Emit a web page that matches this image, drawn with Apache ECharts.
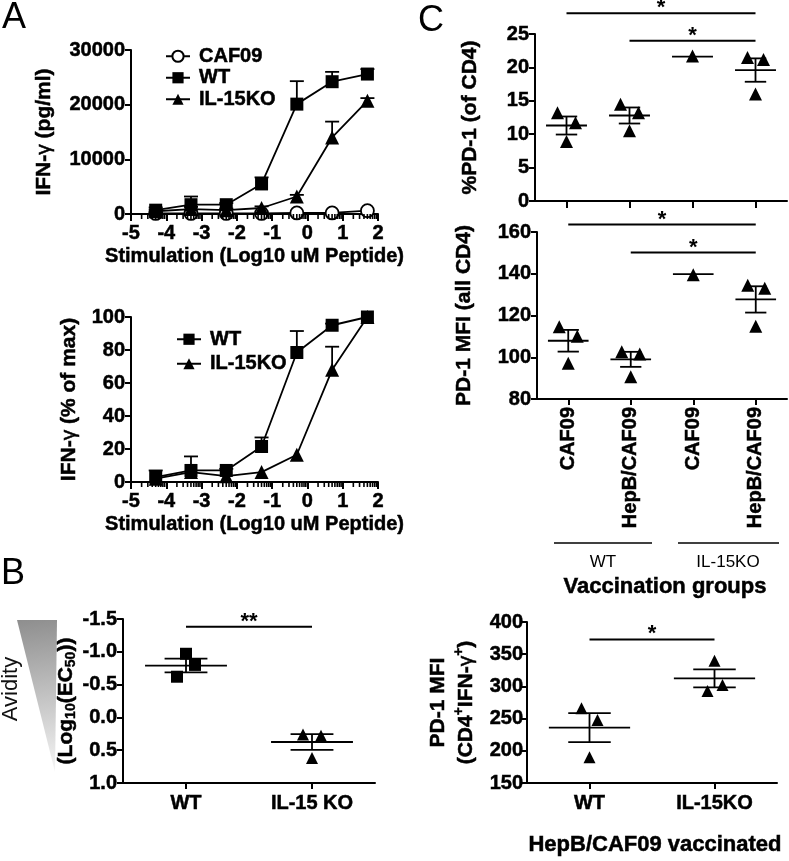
<!DOCTYPE html>
<html><head><meta charset="utf-8">
<script src="https://cdn.jsdelivr.net/npm/echarts@6/dist/echarts.min.js"></script>
<style>html,body{margin:0;padding:0;background:#fff}#c{width:789px;height:861px}</style>
</head><body><div id="c"></div>
<script>
// ---------- Panel A data ----------
const doseLog = [-4.3, -3.3, -2.3, -1.3, -0.3, 0.7, 1.7];
const caf09Abs = [100, 100, 100, 100, 200, 200, 600];
const wtAbs = [700, 1700, 1700, 5500, 20100, 24200, 25600];
const wtAbsErr = [500, 1500, 300, 1200, 4200, 1800, 900];
const ilAbs = [500, 900, 700, 1100, 3200, 14000, 20700];
const ilAbsErr = [300, 400, 300, 300, 300, 2900, 500];
const wtPct = [3, 7, 7, 21.5, 78.5, 95, 100];
const wtPctErr = [4, 8.5, 1, 5.5, 13, 1, 0];
const ilPct = [2, 6, 3.5, 6, 16.5, 68, 100];
const ilPctErr = [0, 0, 0, 0, 0, 14, 0];
const decadesA = [-5, -4, -3, -2, -1, 0, 1];
const logMinorFractions = [0.301, 0.477, 0.602, 0.699, 0.778, 0.845, 0.903, 0.954];

// ---------- Panel B data ----------
const catsB = ['WT', 'IL-15 KO'];
const ec50Pts = [[-0.97, -0.80, -0.62], [0.26, 0.28, 0.62]];
const ec50Mean = [-0.79, 0.375];
const ec50Sem = [0.105, 0.12];
const sigB = [[0, -1.38, 1]];
const sigBText = ['**'];

// ---------- Panel C data ----------
const catsC = ['CAF09', 'HepB/CAF09', 'CAF09', 'HepB/CAF09'];
const pd1PctPts = [[13.2, 11.7, 8.9], [14.5, 13.2, 10.5], [21.7], [21.5, 21.2, 16.0]];
const pd1PctMean = [11.3, 12.8, 21.6, 19.6];
const pd1PctSem = [1.35, 1.2, 0, 1.75];
const sigCTop = [[0, 28.1, 3], [1, 24.0, 3]];
const sigCTopText = ['*', '*'];
const pd1MfiPts = [[114.6, 110.1, 97.1], [102.6, 101.5, 90.7], [139.5], [134.5, 133.0, 114.9]];
const pd1MfiMean = [107.9, 99.0, 139.8, 127.7];
const pd1MfiSem = [5.2, 3.6, 0, 6.3];
const sigCBot = [[0, 163.6, 3], [1, 150.2, 3]];
const sigCBotText = ['*', '*'];

// ---------- Panel D data ----------
const catsD = ['WT', 'IL-15KO'];
const ifnMfiPts = [[266, 248, 190], [339.7, 302, 292.8]];
const ifnMfiMean = [236, 312.4];
const ifnMfiSem = [22.5, 14];
const sigD = [[0, 373, 1]];
const sigDText = ['*'];

// ---------- styling (pixel offsets for jittered dots) ----------
const jitB = [[0, 9, -9], [-9, 9, 0]];
const jitCTop = [[-9, 9, 0], [-9, 9, 0], [0], [-8, 8, 0]];
const jitCBot = [[-9, 9, 0], [-9, 9, 0], [0], [-8, 9, 0]];
const jitD = [[-8, 8, 0], [0, 8, -7]];

const FONT = '"Liberation Sans", Arial, Helvetica, sans-serif';
const K = '#000';
const boldTxt = (s) => ({color: K, fontSize: s, fontWeight: 'bold', fontFamily: FONT, textBorderColor: K, textBorderWidth: 0.5});

function yAx(gi, o) {
  return Object.assign({
    type: 'value', gridIndex: gi,
    axisLine: {show: true, onZero: false, lineStyle: {color: K, width: 2}},
    axisTick: {show: true, length: 6, lineStyle: {color: K, width: 2}},
    axisLabel: Object.assign(boldTxt(20), {margin: 6}),
    splitLine: {show: false},
    nameLocation: 'middle', nameRotate: 90,
    nameTextStyle: boldTxt(21)
  }, o);
}
function xVal(gi, o) {
  return Object.assign({
    type: 'value', gridIndex: gi, min: -5, max: 2, interval: 1,
    axisLine: {show: true, onZero: false, lineStyle: {color: K, width: 2}},
    axisTick: {show: true, length: 7, lineStyle: {color: K, width: 2}},
    axisLabel: Object.assign(boldTxt(20), {margin: 9}),
    splitLine: {show: false},
    name: 'Stimulation (Log10 uM Peptide)', nameLocation: 'middle', nameGap: 32,
    nameTextStyle: boldTxt(20)
  }, o);
}
function xCat(gi, data, o) {
  return Object.assign({
    type: 'category', gridIndex: gi, data: data, boundaryGap: true,
    axisLine: {show: true, onZero: false, lineStyle: {color: K, width: 2}},
    axisTick: {show: true, alignWithLabel: true, interval: 0, length: 6, lineStyle: {color: K, width: 2}},
    axisLabel: Object.assign(boldTxt(20), {margin: 10, interval: 0}),
    splitLine: {show: false}
  }, o);
}

function minorTickSeries(xi, yi) {
  const d = [];
  decadesA.forEach(dec => logMinorFractions.forEach(f => d.push([dec + f, 0])));
  return {type: 'custom', xAxisIndex: xi, yAxisIndex: yi, silent: true, clip: false, z: 6, data: d,
    renderItem(p, api) {
      const c = api.coord([api.value(0), api.value(1)]);
      return {type: 'line', shape: {x1: c[0], y1: c[1], x2: c[0], y2: c[1] + 5}, style: {stroke: K, lineWidth: 1.6}};
    }};
}
function errSeries(xi, yi, xs, ys, es) {
  return {type: 'custom', xAxisIndex: xi, yAxisIndex: yi, silent: true, z: 2,
    data: xs.map((x, i) => [x, ys[i], es[i]]),
    renderItem(p, api) {
      const x = api.value(0), y = api.value(1), e = api.value(2);
      if (!(e > 0)) return null;
      const a = api.coord([x, y]), b = api.coord([x, y + e]);
      const st = {stroke: K, lineWidth: 1.8};
      return {type: 'group', children: [
        {type: 'line', shape: {x1: a[0], y1: a[1], x2: b[0], y2: b[1]}, style: st},
        {type: 'line', shape: {x1: b[0] - 7, y1: b[1], x2: b[0] + 7, y2: b[1]}, style: st}
      ]};
    }};
}
function lineSeries(name, xi, yi, xs, ys, symbol, size, hollow) {
  return {type: 'line', name, xAxisIndex: xi, yAxisIndex: yi, z: 3,
    data: xs.map((x, i) => [x, ys[i]]), symbol, symbolSize: size, showSymbol: true,
    lineStyle: {color: K, width: 1.8},
    itemStyle: hollow ? {color: '#fff', borderColor: K, borderWidth: 1.8, opacity: 1} : {color: K, borderWidth: 0, opacity: 1},
    emphasis: {disabled: true}};
}
function dotSeries(xi, yi, groups, jit, symbols, size) {
  const d = [];
  groups.forEach((g, ci) => g.forEach((v, j) => d.push({value: [ci, v], symbol: symbols[ci], symbolOffset: [jit[ci][j], 0]})));
  return {type: 'scatter', xAxisIndex: xi, yAxisIndex: yi, z: 3, data: d, symbolSize: size,
    itemStyle: {color: K, opacity: 1}, emphasis: {disabled: true}, silent: true};
}
function meanSemSeries(xi, yi, means, sems) {
  return {type: 'custom', xAxisIndex: xi, yAxisIndex: yi, silent: true, z: 4,
    data: means.map((m, i) => [i, m, sems[i]]),
    renderItem(p, api) {
      const c = api.value(0), m = api.value(1), s = api.value(2);
      const pt = api.coord([c, m]);
      const w = api.size([1, 0])[0];
      const hw = w * 0.325, cw = w * 0.17;
      const st = {stroke: K, lineWidth: 1.8};
      const ch = [{type: 'line', shape: {x1: pt[0] - hw, y1: pt[1], x2: pt[0] + hw, y2: pt[1]}, style: st}];
      if (s > 0) {
        const hi = api.coord([c, m + s])[1], lo = api.coord([c, m - s])[1];
        ch.push({type: 'line', shape: {x1: pt[0], y1: hi, x2: pt[0], y2: lo}, style: st});
        ch.push({type: 'line', shape: {x1: pt[0] - cw, y1: hi, x2: pt[0] + cw, y2: hi}, style: st});
        ch.push({type: 'line', shape: {x1: pt[0] - cw, y1: lo, x2: pt[0] + cw, y2: lo}, style: st});
      }
      return {type: 'group', children: ch};
    }};
}
function sigSeries(xi, yi, data, labels) {
  return {type: 'custom', xAxisIndex: xi, yAxisIndex: yi, silent: true, clip: false, z: 5, data,
    renderItem(p, api) {
      const y = api.value(1);
      const a = api.coord([api.value(0), y]), b = api.coord([api.value(2), y]);
      return {type: 'group', children: [
        {type: 'line', shape: {x1: a[0], y1: a[1], x2: b[0], y2: b[1]}, style: {stroke: K, lineWidth: 2}},
        {type: 'text', x: (a[0] + b[0]) / 2, y: a[1] - 5, style: {text: labels[p.dataIndex], fontSize: 22, fontWeight: 'bold', fontFamily: FONT, fill: K, align: 'center', verticalAlign: 'middle'}}
      ]};
    }};
}

const gammaRich = {g: {color: K, fontSize: 21, fontWeight: 'normal', fontFamily: FONT}};

const option = {
  animation: false,
  backgroundColor: '#fff',
  textStyle: {fontFamily: FONT},
  grid: [
    {left: 131, top: 50, width: 247, height: 164, outerBoundsMode: 'none'},
    {left: 131, top: 317, width: 247, height: 165, outerBoundsMode: 'none'},
    {left: 535, top: 34, width: 252, height: 167, outerBoundsMode: 'none'},
    {left: 537, top: 232, width: 250, height: 167, outerBoundsMode: 'none'},
    {left: 123, top: 619, width: 252, height: 164, outerBoundsMode: 'none'},
    {left: 527, top: 622, width: 250, height: 161, outerBoundsMode: 'none'}
  ],
  xAxis: [
    xVal(0),
    xVal(1),
    xCat(2, catsC, {axisLabel: {show: false}, axisTick: {show: true, alignWithLabel: true, interval: 0, length: 7, lineStyle: {color: K, width: 2}}}),
    xCat(3, catsC, {axisLabel: Object.assign(boldTxt(20), {rotate: 90, margin: 8, interval: 0})}),
    xCat(4, catsB),
    xCat(5, catsD)
  ],
  yAxis: [
    yAx(0, {min: 0, max: 30000, interval: 10000, name: 'IFN-{g|γ} (pg/ml)', nameGap: 76,
      axisLabel: Object.assign(boldTxt(20), {margin: 6, formatter: v => String(v)}),
      nameTextStyle: Object.assign(boldTxt(21), {rich: gammaRich})}),
    yAx(1, {min: 0, max: 100, interval: 20, name: 'IFN-{g|γ} (% of max)', nameGap: 51,
      nameTextStyle: Object.assign(boldTxt(21), {rich: gammaRich})}),
    yAx(2, {min: 0, max: 25, interval: 5, name: '%PD-1 (of CD4)', nameGap: 54}),
    yAx(3, {min: 80, max: 160, interval: 20, name: 'PD-1 MFI (all CD4)', nameGap: 62}),
    yAx(4, {min: -1.5, max: 1.0, interval: 0.5, inverse: true, name: '(Log{s|10}(EC{s|50}))', nameGap: 45,
      axisLabel: Object.assign(boldTxt(20), {margin: 6, formatter: v => v.toFixed(1)}),
      nameTextStyle: Object.assign(boldTxt(21), {lineHeight: 24, rich: {s: {color: K, fontSize: 14, fontWeight: 'bold', fontFamily: FONT, verticalAlign: 'bottom', lineHeight: 10, textBorderColor: K, textBorderWidth: 0.4}}})}),
    yAx(5, {min: 150, max: 400, interval: 50, name: 'PD-1 MFI\n(CD4{p|+}IFN-{g|γ}{p|+})', nameGap: 47,
      axisLabel: Object.assign(boldTxt(20), {margin: 4}),
      nameTextStyle: Object.assign(boldTxt(21), {lineHeight: 28, rich: {
        p: {color: K, fontSize: 14, fontWeight: 'bold', fontFamily: FONT, verticalAlign: 'top', lineHeight: 12, textBorderColor: K, textBorderWidth: 0.4},
        g: {color: K, fontSize: 21, fontWeight: 'normal', fontFamily: FONT}}})})
  ],
  legend: [
    {data: ['CAF09', 'WT', 'IL-15KO'], orient: 'vertical', left: 160, top: 41, itemWidth: 24, itemHeight: 14, itemGap: 1,
      selectedMode: false, textStyle: Object.assign(boldTxt(20), {padding: [0, 0, 0, 4]})},
    {data: ['WT', 'IL-15KO'], orient: 'vertical', left: 171, top: 324, itemWidth: 24, itemHeight: 14, itemGap: 4,
      selectedMode: false, textStyle: Object.assign(boldTxt(20), {padding: [0, 0, 0, 4]})}
  ],
  series: [
    minorTickSeries(0, 0),
    errSeries(0, 0, doseLog, wtAbs, wtAbsErr),
    errSeries(0, 0, doseLog, ilAbs, ilAbsErr),
    lineSeries('CAF09', 0, 0, doseLog, caf09Abs, 'circle', 13, true),
    lineSeries('IL-15KO', 0, 0, doseLog, ilAbs, 'triangle', 14, false),
    lineSeries('WT', 0, 0, doseLog, wtAbs, 'rect', 13, false),
    minorTickSeries(1, 1),
    errSeries(1, 1, doseLog, wtPct, wtPctErr),
    errSeries(1, 1, doseLog, ilPct, ilPctErr),
    lineSeries('IL-15KO', 1, 1, doseLog, ilPct, 'triangle', 14, false),
    lineSeries('WT', 1, 1, doseLog, wtPct, 'rect', 13, false),
    dotSeries(2, 2, pd1PctPts, jitCTop, ['triangle', 'triangle', 'triangle', 'triangle'], 13),
    meanSemSeries(2, 2, pd1PctMean, pd1PctSem),
    sigSeries(2, 2, sigCTop, sigCTopText),
    dotSeries(3, 3, pd1MfiPts, jitCBot, ['triangle', 'triangle', 'triangle', 'triangle'], 13),
    meanSemSeries(3, 3, pd1MfiMean, pd1MfiSem),
    sigSeries(3, 3, sigCBot, sigCBotText),
    dotSeries(4, 4, ec50Pts, jitB, ['rect', 'triangle'], 12),
    meanSemSeries(4, 4, ec50Mean, ec50Sem),
    sigSeries(4, 4, sigB, sigBText),
    dotSeries(5, 5, ifnMfiPts, jitD, ['triangle', 'triangle'], 12),
    meanSemSeries(5, 5, ifnMfiMean, ifnMfiSem),
    sigSeries(5, 5, sigD, sigDText)
  ],
  graphic: [
    {type: 'text', left: 2, top: 0, style: {text: 'A', fontSize: 36, fontFamily: FONT, fill: K}},
    {type: 'text', left: 1, top: 556, style: {text: 'B', fontSize: 36, fontFamily: FONT, fill: K}},
    {type: 'text', left: 418, top: 3, style: {text: 'C', fontSize: 36, fontFamily: FONT, fill: K}},
    {type: 'polygon', shape: {points: [[17, 620], [57, 620], [55, 772]]},
      style: {fill: new echarts.graphic.LinearGradient(0, 0, 0.5, 1, [{offset: 0, color: '#8e8e8e'}, {offset: 1, color: '#f4f4f4'}])}},
    {type: 'text', x: 11, y: 689, rotation: Math.PI / 2, style: {text: 'Avidity', fontSize: 22, fontFamily: FONT, fill: '#111', align: 'center', verticalAlign: 'middle'}},
    {type: 'line', shape: {x1: 554, y1: 543, x2: 652, y2: 543}, style: {stroke: K, lineWidth: 1.5}},
    {type: 'line', shape: {x1: 678, y1: 543, x2: 779, y2: 543}, style: {stroke: K, lineWidth: 1.5}},
    {type: 'text', x: 603, y: 562, style: {text: 'WT', fontSize: 17, fontFamily: FONT, fill: K, align: 'center', verticalAlign: 'middle'}},
    {type: 'text', x: 728, y: 562, style: {text: 'IL-15KO', fontSize: 17, fontFamily: FONT, fill: K, align: 'center', verticalAlign: 'middle'}},
    {type: 'text', x: 665, y: 587, style: {text: 'Vaccination groups', fontSize: 22, fontWeight: 'bold', fontFamily: FONT, fill: K, align: 'center', verticalAlign: 'middle', stroke: K, lineWidth: 0.5}},
    {type: 'text', x: 655, y: 845, style: {text: 'HepB/CAF09 vaccinated', fontSize: 22, fontWeight: 'bold', fontFamily: FONT, fill: K, align: 'center', verticalAlign: 'middle', stroke: K, lineWidth: 0.5}}
  ]
};
const chart = echarts.init(document.getElementById('c'));
chart.setOption(option);
</script>
</body></html>
